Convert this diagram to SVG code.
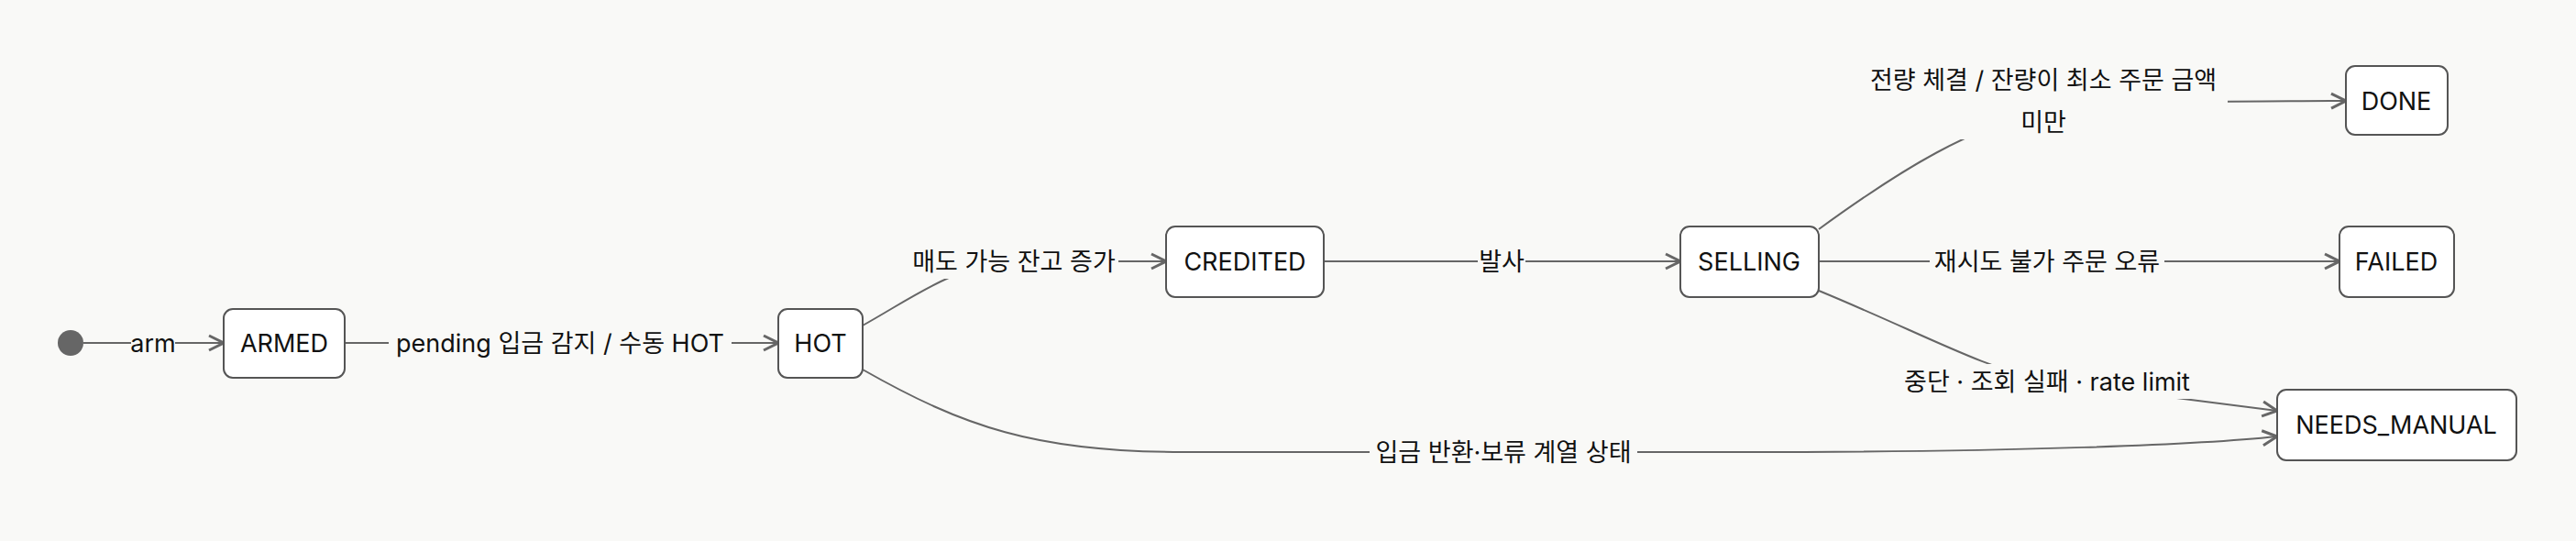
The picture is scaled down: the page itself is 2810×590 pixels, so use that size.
<svg xmlns="http://www.w3.org/2000/svg" width="2810" height="590" viewBox="0 0 2810 590">
<style>
.n rect{fill:#fff;stroke:#555;stroke-width:2}
text{font-family:"Inter","Noto Sans CJK KR",sans-serif;font-size:27px;fill:#111;text-anchor:middle;dominant-baseline:central}
.e path{fill:none;stroke:#666;stroke-width:2}
.lb{fill:#f9f9f7}
</style>
<defs><marker id="a" viewBox="0 0 20 20" refX="18" refY="10" markerWidth="20" markerHeight="20" markerUnits="userSpaceOnUse" orient="auto"><path d="M2,2 L18,10 L2,18" fill="none" stroke="#666" stroke-width="3"/></marker></defs>
<rect width="2810" height="590" fill="#f9f9f7"/>
<g class="e">
<path d="M91,374 L244,374" marker-end="url(#a)"/>
<path d="M376,374 L849,374" marker-end="url(#a)"/>
<path d="M941,355 C1000,322 1040,290 1106,285 L1272,285" marker-end="url(#a)"/>
<path d="M1444,285 L1833,285" marker-end="url(#a)"/>
<path d="M1984,250 C2080,180 2150,140 2229,120 C2300,110 2400,111 2559,110" marker-end="url(#a)"/>
<path d="M1984,285 L2552,285" marker-end="url(#a)"/>
<path d="M1984,317 C2100,365 2160,400 2233,416 L2484,448" marker-end="url(#a)"/>
<path d="M941,403 C1050,465 1130,493 1290,493 L1900,493 C2200,493 2400,485 2484,476" marker-end="url(#a)"/>
<rect class="lb" x="143" y="357" width="48" height="34"/><text x="167" y="374">arm</text>
<rect class="lb" x="424" y="357" width="374" height="34"/><text x="611" y="374">pending 입금 감지 / 수동 HOT</text>
<rect class="lb" x="993" y="266" width="227" height="38"/><text x="1106" y="285">매도 가능 잔고 증가</text>
<rect class="lb" x="1612" y="266" width="52" height="38"/><text x="1638" y="285">발사</text>
<rect class="lb" x="2030" y="68" width="400" height="84"/><text x="2229" y="87">전량 체결 / 잔량이 최소 주문 금액</text><text x="2229" y="133">미만</text>
<rect class="lb" x="2105" y="266" width="256" height="38"/><text x="2233" y="285">재시도 불가 주문 오류</text>
<rect class="lb" x="2065" y="397" width="336" height="38"/><text x="2233" y="416">중단 · 조회 실패 · rate limit</text>
<rect class="lb" x="1494" y="474" width="292" height="38"/><text x="1640" y="493">입금 반환·보류 계열 상태</text>
</g>
<g id="start"><circle cx="77" cy="374" r="14" fill="#666"/></g>
<g id="ARMED" class="n"><rect x="244" y="337" width="132" height="75" rx="10"/><text x="310" y="374">ARMED</text></g>
<g id="HOT" class="n"><rect x="849" y="337" width="92" height="75" rx="10"/><text x="895" y="374">HOT</text></g>
<g id="CREDITED" class="n"><rect x="1272" y="247" width="172" height="77" rx="10"/><text x="1358" y="285">CREDITED</text></g>
<g id="SELLING" class="n"><rect x="1833" y="247" width="151" height="77" rx="10"/><text x="1908" y="285">SELLING</text></g>
<g id="DONE" class="n"><rect x="2559" y="72" width="111" height="75" rx="10"/><text x="2614" y="110">DONE</text></g>
<g id="FAILED" class="n"><rect x="2552" y="247" width="125" height="77" rx="10"/><text x="2614" y="285">FAILED</text></g>
<g id="NEEDS_MANUAL" class="n"><rect x="2484" y="425" width="261" height="77" rx="10"/><text x="2614" y="463">NEEDS_MANUAL</text></g>
</svg>
